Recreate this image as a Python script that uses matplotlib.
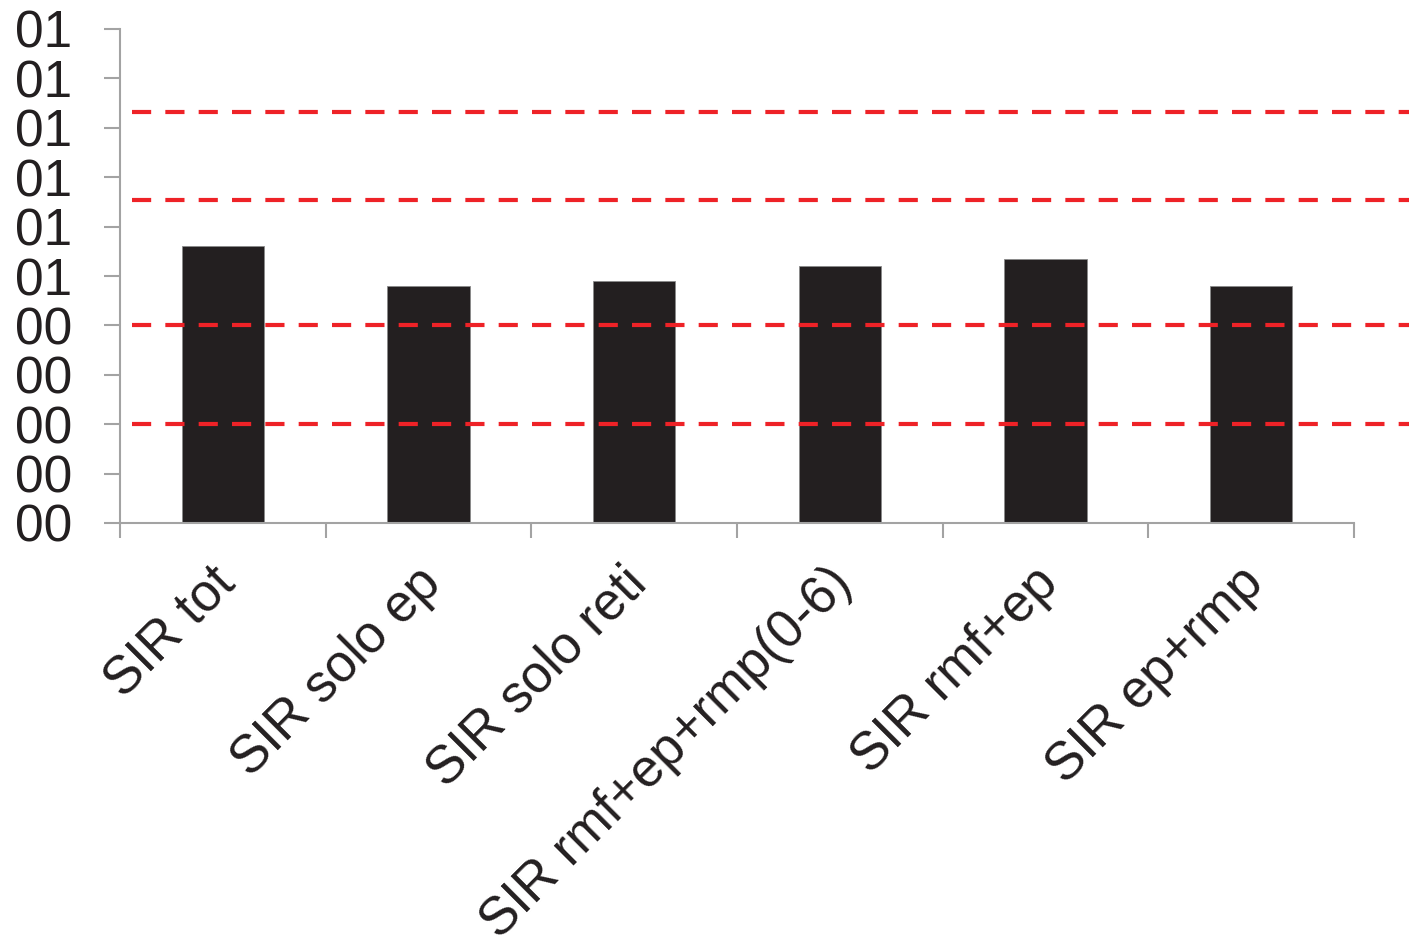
import numpy as np
import matplotlib
matplotlib.use("Agg")
import matplotlib.pyplot as plt
import matplotlib.transforms as mtransforms
from matplotlib.ticker import FixedLocator, FixedFormatter

plt.rcParams['font.family'] = ['Liberation Sans', 'DejaVu Sans']

# categorie e valori SIR
categorie = ['SIR tot', 'SIR solo ep', 'SIR solo reti',
             'SIR rmf+ep+rmp(0-6)', 'SIR rmf+ep', 'SIR ep+rmp']
valori = [0.00561, 0.00480, 0.00490, 0.00520, 0.00534, 0.00480]

# linee di riferimento tratteggiate
soglie = [0.00832, 0.00654, 0.00401, 0.00200]

# tick asse y e relative etichette
yticks = [0.000, 0.001, 0.002, 0.003, 0.004, 0.005,
          0.006, 0.007, 0.008, 0.009, 0.010]
yticklabels = ['00', '00', '00', '00', '00', '01',
               '01', '01', '01', '01', '01']

GRIGIO = '#a3a3a3'
NERO = '#231f20'
ROSSO = '#ee2227'

fig = plt.figure(figsize=(14.09, 9.44), dpi=100)
ax = fig.add_axes([120 / 1409, 1 - 523 / 944, 1234 / 1409, 494 / 944])

x = np.arange(len(categorie))
ax.bar(x, valori, width=0.40, color=NERO, edgecolor='#8a8a8a',
       linewidth=0.6, zorder=2)

for s in soglie:
    ax.plot([0.0097, 1.05], [s, s], transform=ax.get_yaxis_transform(),
            color=ROSSO, lw=3, dashes=(4.6, 3.4), clip_on=False,
            solid_capstyle='butt', dash_capstyle='butt', zorder=3)

ax.set_xlim(-0.5, len(categorie) - 0.5)
ax.set_ylim(0, 0.010)

ax.yaxis.set_major_locator(FixedLocator(yticks))
ax.yaxis.set_major_formatter(FixedFormatter(yticklabels))

ax.set_xticks(x)
ax.set_xticklabels(categorie, rotation=45, ha='right', va='top',
                   rotation_mode='anchor')
ax.set_xticks(np.arange(len(categorie) + 1) - 0.5, minor=True)

ax.tick_params(axis='y', length=11.5, width=1.5, color=GRIGIO,
               labelsize=37, labelcolor=NERO, pad=23)
ax.tick_params(axis='x', which='major', length=0, labelsize=38,
               labelcolor=NERO, pad=25)
ax.tick_params(axis='x', which='minor', length=11, width=1.5, color=GRIGIO)

# sposta un po' a sinistra le etichette ruotate
spost = mtransforms.ScaledTranslation(-0.13, 0, fig.dpi_scale_trans)
for lab in ax.get_xticklabels():
    lab.set_transform(lab.get_transform() + spost)

for side in ['top', 'right']:
    ax.spines[side].set_visible(False)
for side in ['left', 'bottom']:
    ax.spines[side].set_color(GRIGIO)
    ax.spines[side].set_linewidth(1.5)

fig.savefig('out.png', dpi=100)
